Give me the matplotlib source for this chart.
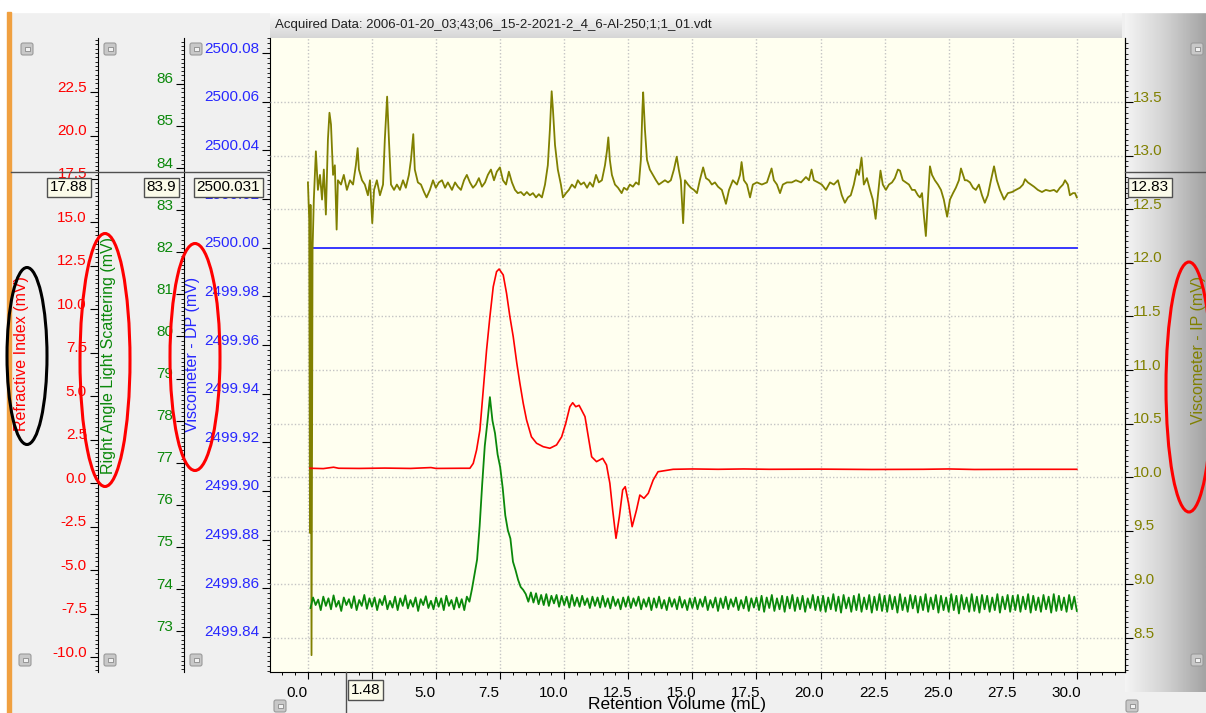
import numpy as np
import matplotlib.pyplot as plt
from matplotlib.colors import LinearSegmentedColormap
from matplotlib.patches import Ellipse, Rectangle, FancyBboxPatch
from matplotlib.ticker import MultipleLocator, FormatStrFormatter
from matplotlib.transforms import ScaledTranslation

plt.rcParams['font.family'] = ['Liberation Sans', 'DejaVu Sans']

# ----------------------------------------------------------------------
# Data
# ----------------------------------------------------------------------
title = "Acquired Data: 2006-01-20_03;43;06_15-2-2021-2_4_6-Al-250;1;1_01.vdt"

x_ticks = [0.0, 2.5, 5.0, 7.5, 10.0, 12.5, 15.0, 17.5, 20.0, 22.5, 25.0, 27.5, 30.0]
ri_ticks = [-10.0, -7.5, -5.0, -2.5, 0.0, 2.5, 5.0, 7.5, 10.0, 12.5, 15.0, 17.5, 20.0, 22.5]
ls_ticks = [73, 74, 75, 76, 77, 78, 79, 80, 81, 82, 83, 84, 85, 86]
dp_ticks = [2499.84, 2499.86, 2499.88, 2499.90, 2499.92, 2499.94, 2499.96,
            2499.98, 2500.00, 2500.02, 2500.04, 2500.06, 2500.08]
ip_ticks = [8.5, 9.0, 9.5, 10.0, 10.5, 11.0, 11.5, 12.0, 12.5, 13.0, 13.5]

x_lim = (-1.48, 31.88)
ri_lim = (-10.86, 25.61)
ls_lim = (72.03, 87.09)
dp_lim = (2499.8256, 2500.0862)
ip_lim = (8.183, 14.097)

# cursor read-outs shown in the boxes
cursor_x = 1.48
cursor_ri = 17.88
cursor_ls = 83.9
cursor_dp = 2500.031
cursor_ip = 12.83

# Refractive index (mV)
ri_pts = [
    (0.08, 0.86), (0.60, 0.84), (1.00, 0.92), (1.20, 0.86), (2.00, 0.85), (3.00, 0.87),
    (4.00, 0.85), (4.80, 0.90), (5.00, 0.85), (6.00, 0.86), (6.32, 0.86), (6.45, 1.14),
    (6.58, 1.91), (6.71, 3.06), (6.84, 5.36), (6.97, 7.66), (7.10, 9.58), (7.23, 11.30),
    (7.36, 12.17), (7.46, 12.32), (7.62, 11.98), (7.75, 10.92), (7.88, 9.58), (8.01, 8.43),
    (8.15, 6.90), (8.27, 5.75), (8.40, 4.60), (8.53, 3.64), (8.72, 2.67), (8.92, 2.30),
    (9.18, 2.10), (9.44, 2.01), (9.70, 2.20), (9.90, 2.67), (10.06, 3.45), (10.22, 4.40),
    (10.33, 4.63), (10.45, 4.40), (10.58, 4.48), (10.68, 4.20), (10.81, 3.83), (10.94, 2.67),
    (11.07, 1.52), (11.26, 1.24), (11.50, 1.43), (11.65, 1.05), (11.78, 0.00), (11.89, -1.54),
    (12.02, -3.17), (12.15, -1.93), (12.28, -0.39), (12.38, -0.20), (12.51, -1.16), (12.65, -2.50),
    (12.82, -1.54), (12.95, -0.68), (13.11, -0.87), (13.28, -0.58), (13.47, 0.18), (13.66, 0.66),
    (14.25, 0.80), (15.00, 0.82), (16.00, 0.80), (17.00, 0.82), (18.00, 0.80), (20.00, 0.81),
    (22.00, 0.79), (24.00, 0.80), (25.00, 0.82), (26.00, 0.79), (28.00, 0.80), (30.00, 0.80),
]

# Right angle light scattering (mV), one reading every 0.1 mL from 0.1 to 30.0
ls_vals = [
    73.55, 73.80, 73.62, 73.75, 73.50, 73.82, 73.60, 73.78, 73.52, 73.85, 73.58, 73.72, 73.48,
    73.80, 73.62, 73.76, 73.55, 73.83, 73.50, 73.74, 73.60, 73.86, 73.53, 73.78, 73.58,
    73.80, 73.50, 73.76, 73.62, 73.84, 73.52, 73.72, 73.56, 73.82, 73.50, 73.78, 73.60, 73.85,
    73.54, 73.74, 73.58, 73.80, 73.48, 73.76, 73.62, 73.83, 73.55, 73.72, 73.52, 73.80,
    73.58, 73.78, 73.50, 73.84, 73.60, 73.74, 73.52, 73.80, 73.56, 73.76, 73.50, 73.82, 73.70,
    74.00, 74.35, 74.70, 75.50, 76.50, 77.40, 77.95, 78.56, 78.00, 77.70, 77.20, 76.90,
    76.40, 75.75, 75.40, 75.20, 74.65, 74.45, 74.22, 74.05, 73.98, 73.88, 73.70, 73.92, 73.68,
    73.90, 73.64, 73.86, 73.62, 73.88, 73.60, 73.84, 73.66, 73.86, 73.58, 73.84, 73.62,
    73.82, 73.56, 73.86, 73.60, 73.80, 73.58, 73.84, 73.62, 73.78, 73.55, 73.82, 73.60, 73.80,
    73.56, 73.84, 73.58, 73.78, 73.54, 73.82, 73.60, 73.76, 73.52, 73.80, 73.58, 73.82,
    73.55, 73.78, 73.60, 73.82, 73.52, 73.76, 73.58, 73.80, 73.50, 73.78, 73.56, 73.82, 73.54,
    73.74, 73.50, 73.80, 73.58, 73.76, 73.52, 73.82, 73.56, 73.74, 73.50, 73.78, 73.55,
    73.80, 73.52, 73.76, 73.58, 73.82, 73.50, 73.74, 73.56, 73.80, 73.48, 73.78, 73.55, 73.82,
    73.52, 73.76, 73.58, 73.80, 73.50, 73.74, 73.54, 73.82, 73.48, 73.78, 73.56, 73.80,
    73.50, 73.84, 73.46, 73.80, 73.55, 73.86, 73.48, 73.78, 73.52, 73.84, 73.46, 73.82, 73.54,
    73.86, 73.48, 73.80, 73.52, 73.84, 73.46, 73.78, 73.55, 73.86, 73.50, 73.82, 73.48,
    73.84, 73.46, 73.80, 73.52, 73.88, 73.48, 73.82, 73.44, 73.86, 73.54, 73.80, 73.46, 73.84,
    73.50, 73.88, 73.46, 73.80, 73.52, 73.86, 73.44, 73.82, 73.50, 73.88, 73.48, 73.84,
    73.46, 73.86, 73.52, 73.82, 73.44, 73.88, 73.50, 73.80, 73.46, 73.86, 73.54, 73.84, 73.44,
    73.82, 73.50, 73.88, 73.46, 73.80, 73.52, 73.86, 73.44, 73.84, 73.50, 73.80, 73.46,
    73.88, 73.50, 73.84, 73.42, 73.86, 73.52, 73.80, 73.46, 73.88, 73.48, 73.82, 73.44, 73.86,
    73.52, 73.84, 73.46, 73.80, 73.50, 73.88, 73.44, 73.82, 73.52, 73.86, 73.46, 73.84,
    73.50, 73.86, 73.46, 73.82, 73.52, 73.88, 73.44, 73.84, 73.50, 73.80, 73.46, 73.86, 73.52,
    73.82, 73.44, 73.88, 73.48, 73.84, 73.50, 73.80, 73.46, 73.86, 73.52, 73.82, 73.48,
]
ls_x = np.round(0.1 * np.arange(1, len(ls_vals) + 1), 1)

# Viscometer DP (mV) - flat
dp_x = [0.08, 30.0]
dp_vals = [2500.0, 2500.0]

# Viscometer IP (mV)
ip_pts = [
    (0.00, 12.75), (0.05, 12.40), (0.08, 9.48), (0.10, 12.54), (0.14, 8.34), (0.18, 12.12),
    (0.23, 12.59), (0.31, 13.04), (0.39, 12.68), (0.47, 12.82), (0.55, 12.59), (0.62, 12.87),
    (0.70, 12.45), (0.78, 13.15), (0.84, 13.40), (0.90, 13.29), (0.98, 12.82), (1.05, 12.91),
    (1.12, 12.31), (1.17, 12.77), (1.29, 12.73), (1.40, 12.82), (1.52, 12.68), (1.64, 12.77),
    (1.76, 12.73), (1.87, 12.91), (1.94, 13.07), (1.99, 12.87), (2.11, 12.77), (2.22, 12.73),
    (2.34, 12.63), (2.42, 12.77), (2.51, 12.37), (2.58, 12.68), (2.69, 12.77), (2.81, 12.63),
    (2.93, 12.73), (3.00, 13.15), (3.09, 13.55), (3.16, 13.15), (3.24, 12.73), (3.36, 12.68),
    (3.47, 12.73), (3.59, 12.68), (3.71, 12.77), (3.82, 12.70), (3.94, 12.82), (4.02, 12.96),
    (4.11, 13.20), (4.17, 12.87), (4.29, 12.75), (4.41, 12.73), (4.53, 12.66), (4.63, 12.61),
    (4.76, 12.68), (4.88, 12.77), (4.99, 12.70), (5.11, 12.75), (5.23, 12.77), (5.35, 12.70),
    (5.46, 12.75), (5.62, 12.68), (5.74, 12.75), (5.85, 12.71), (5.97, 12.68), (6.09, 12.77),
    (6.20, 12.82), (6.32, 12.75), (6.44, 12.70), (6.55, 12.73), (6.67, 12.79), (6.79, 12.71),
    (6.91, 12.75), (7.02, 12.82), (7.14, 12.87), (7.26, 12.77), (7.37, 12.85), (7.49, 12.89),
    (7.61, 12.77), (7.73, 12.73), (7.84, 12.85), (7.96, 12.75), (8.08, 12.68), (8.19, 12.65),
    (8.31, 12.66), (8.43, 12.63), (8.54, 12.66), (8.66, 12.63), (8.78, 12.65), (8.90, 12.61),
    (9.01, 12.64), (9.13, 12.61), (9.25, 12.73), (9.36, 12.91), (9.44, 13.24), (9.51, 13.60),
    (9.56, 13.43), (9.64, 13.10), (9.75, 12.87), (9.87, 12.73), (9.95, 12.61), (10.07, 12.65),
    (10.18, 12.68), (10.30, 12.73), (10.42, 12.70), (10.53, 12.77), (10.65, 12.73), (10.77, 12.75),
    (10.89, 12.70), (11.00, 12.75), (11.12, 12.71), (11.24, 12.82), (11.35, 12.75), (11.47, 12.77),
    (11.59, 12.91), (11.67, 13.05), (11.72, 13.17), (11.78, 12.96), (11.86, 12.82), (11.98, 12.73),
    (12.10, 12.70), (12.24, 12.65), (12.33, 12.70), (12.45, 12.68), (12.56, 12.73), (12.68, 12.71),
    (12.80, 12.75), (12.91, 12.73), (12.99, 12.96), (13.05, 13.43), (13.08, 13.59), (13.15, 13.24),
    (13.23, 12.96), (13.34, 12.87), (13.46, 12.82), (13.58, 12.77), (13.69, 12.73), (13.81, 12.75),
    (13.93, 12.77), (14.05, 12.75), (14.16, 12.77), (14.28, 12.87), (14.39, 12.99), (14.47, 12.87),
    (14.55, 12.77), (14.64, 12.37), (14.71, 12.77), (14.83, 12.73), (14.94, 12.70), (15.06, 12.68),
    (15.18, 12.65), (15.29, 12.77), (15.42, 12.89), (15.53, 12.79), (15.65, 12.77), (15.76, 12.73),
    (15.88, 12.75), (16.00, 12.71), (16.15, 12.68), (16.31, 12.55), (16.43, 12.68), (16.58, 12.77),
    (16.74, 12.73), (16.86, 12.82), (16.92, 12.94), (17.01, 12.77), (17.13, 12.73), (17.25, 12.61),
    (17.36, 12.73), (17.52, 12.75), (17.71, 12.73), (17.91, 12.75), (18.09, 12.88), (18.18, 12.77),
    (18.30, 12.73), (18.42, 12.65), (18.53, 12.73), (18.69, 12.75), (18.88, 12.75), (19.04, 12.77),
    (19.24, 12.75), (19.43, 12.80), (19.55, 12.77), (19.65, 12.87), (19.74, 12.77), (19.90, 12.75),
    (20.05, 12.73), (20.21, 12.68), (20.37, 12.75), (20.52, 12.73), (20.68, 12.77), (20.83, 12.63),
    (20.95, 12.56), (21.07, 12.61), (21.18, 12.63), (21.30, 12.73), (21.42, 12.87), (21.50, 12.82),
    (21.60, 12.98), (21.69, 12.73), (21.81, 12.79), (21.93, 12.68), (22.04, 12.59), (22.15, 12.41),
    (22.24, 12.63), (22.34, 12.86), (22.43, 12.73), (22.55, 12.68), (22.67, 12.73), (22.79, 12.75),
    (22.90, 12.79), (23.02, 12.87), (23.10, 12.86), (23.21, 12.77), (23.33, 12.75), (23.45, 12.73),
    (23.57, 12.68), (23.68, 12.68), (23.80, 12.63), (23.88, 12.61), (23.96, 12.65), (24.03, 12.45),
    (24.11, 12.25), (24.19, 12.59), (24.27, 12.90), (24.35, 12.82), (24.46, 12.77), (24.58, 12.73),
    (24.70, 12.68), (24.81, 12.59), (24.94, 12.43), (25.05, 12.59), (25.17, 12.65), (25.28, 12.70),
    (25.40, 12.77), (25.48, 12.88), (25.56, 12.82), (25.63, 12.77), (25.71, 12.77), (25.83, 12.75),
    (25.95, 12.70), (26.06, 12.68), (26.18, 12.73), (26.30, 12.63), (26.41, 12.56), (26.53, 12.63),
    (26.65, 12.77), (26.77, 12.90), (26.88, 12.77), (27.00, 12.68), (27.16, 12.59), (27.31, 12.65),
    (27.47, 12.66), (27.62, 12.68), (27.78, 12.70), (27.90, 12.73), (27.98, 12.78), (28.09, 12.75),
    (28.21, 12.73), (28.33, 12.71), (28.48, 12.68), (28.64, 12.66), (28.79, 12.68), (28.95, 12.67),
    (29.11, 12.68), (29.22, 12.66), (29.34, 12.70), (29.46, 12.73), (29.54, 12.77), (29.65, 12.73),
    (29.73, 12.63), (29.85, 12.65), (29.93, 12.65), (30.00, 12.61),
]

RED = '#ff0000'
GREEN = '#0a880a'
BLUE = '#2828ff'
OLIVE = '#808000'
TICK_FS = 11
LABEL_FS = 11.5

# ----------------------------------------------------------------------
# Figure / panels
# ----------------------------------------------------------------------
W, H = 1206, 713
fig = plt.figure(figsize=(W / 100, H / 100), dpi=100, facecolor='#f0f0f0')


def px_rect(x0, y0, x1, y1):
    return [x0 / W, 1 - y1 / H, (x1 - x0) / W, (y1 - y0) / H]


bg = fig.add_axes([0, 0, 1, 1], zorder=-10)
bg.axis('off')
bg.add_patch(Rectangle((0, 0), W, 12, color='white'))
bg.add_patch(Rectangle((0, 0), 7, H, color='white'))
bg.add_patch(Rectangle((7, 12), 4, H - 12, color='#f0a040'))
title_cmap = LinearSegmentedColormap.from_list('tb', ['#fbfbfb', '#d6d6d6'])
bg.imshow(np.linspace(0, 1, 40).reshape(-1, 1), extent=(270, 1122, 38, 12),
          cmap=title_cmap, aspect='auto')
side_cmap = LinearSegmentedColormap.from_list('sd', ['#f4f4f4', '#d2d2d2', '#a4a4a4'])
bg.imshow(np.linspace(0, 1, 60).reshape(1, -1), extent=(1125, W, 692, 12),
          cmap=side_cmap, aspect='auto')
bg.set_xlim(0, W)
bg.set_ylim(H, 0)

# host axes: x axis + viscometer DP on the left spine
ax = fig.add_axes(px_rect(270, 38, 1125, 672))
ax.set_facecolor('#fffff0')
ax_ip = ax.twinx()
ax_ls = ax.twinx()
ax_ri = ax.twinx()

for a in (ax, ax_ip, ax_ls, ax_ri):
    a.spines['top'].set_visible(False)
for a in (ax_ls, ax_ri):
    a.spines['right'].set_visible(False)
    a.spines['bottom'].set_visible(False)
    a.spines['left'].set_visible(True)
    a.yaxis.tick_left()
    a.yaxis.set_label_position('left')
ax_ls.spines['left'].set_position(('axes', -86 / 855))
ax_ri.spines['left'].set_position(('axes', -172 / 855))
ax_ip.spines['left'].set_visible(False)
ax_ip.spines['bottom'].set_visible(False)

# series
ax.plot(dp_x, dp_vals, color=BLUE, lw=1.3)
ip_x, ip_v = zip(*ip_pts)
ax_ip.plot(ip_x, ip_v, color=OLIVE, lw=1.3)
ax_ls.plot(ls_x, ls_vals, color=GREEN, lw=1.3)
ri_x, ri_v = zip(*ri_pts)
ax_ri.plot(ri_x, ri_v, color=RED, lw=1.2)

# limits, ticks
ax.set_xlim(*x_lim)
ax.set_ylim(*dp_lim)
ax_ip.set_ylim(*ip_lim)
ax_ls.set_ylim(*ls_lim)
ax_ri.set_ylim(*ri_lim)

ax.set_xticks(x_ticks)
ax.xaxis.set_minor_locator(MultipleLocator(0.5))
ax.xaxis.set_major_formatter(FormatStrFormatter('%.1f'))
ax.tick_params(axis='x', which='major', length=5, width=0.8, pad=5, labelsize=TICK_FS)
ax.tick_params(axis='x', which='minor', length=2.5, width=0.7)

for a, ticks, minor, fmt, color in (
        (ax, dp_ticks, 0.002, '%.2f', BLUE),
        (ax_ls, ls_ticks, 0.1, '%d', GREEN),
        (ax_ri, ri_ticks, 0.25, '%.1f', RED),
        (ax_ip, ip_ticks, 0.05, '%.1f', OLIVE)):
    a.set_yticks(ticks)
    a.yaxis.set_minor_locator(MultipleLocator(minor))
    a.yaxis.set_major_formatter(FormatStrFormatter(fmt))
    a.tick_params(axis='y', which='major', length=5.5, width=0.8,
                  labelsize=TICK_FS, labelcolor=color, pad=2.5)
    a.tick_params(axis='y', which='minor', length=2.5, width=0.6)
ax_ip.tick_params(axis='y', which='major', pad=0.5)

# grid: vertical on x majors, horizontal on IP majors
grid_kw = dict(color='#c4c4c4', linestyle=(0, (1, 1.5)), linewidth=1.0)
ax.grid(axis='x', which='major', **grid_kw)
ax_ip.grid(axis='y', which='major', **grid_kw)

# axis titles
ax_ri.set_ylabel('Refractive Index (mV)', color=RED, fontsize=LABEL_FS, va='center')
ax_ri.yaxis.set_label_coords((22 - 270) / 855, (672 - 354) / 634)
ax_ls.set_ylabel('Right Angle Light Scattering (mV)', color=GREEN, fontsize=LABEL_FS, va='center')
ax_ls.yaxis.set_label_coords((108 - 270) / 855, (672 - 355) / 634)
ax.set_ylabel('Viscometer - DP (mV)', color=BLUE, fontsize=LABEL_FS, va='center')
ax.yaxis.set_label_coords((193 - 270) / 855, (672 - 354) / 634)
ax_ip.set_ylabel('Viscometer - IP (mV)', color=OLIVE, fontsize=LABEL_FS, va='center')
ax_ip.yaxis.set_label_coords((1198 - 270) / 855, (672 - 350) / 634)
ax.set_xlabel('Retention Volume (mL)', fontsize=12.5, va='center')
ax.xaxis.set_label_coords((677 - 270) / 855, (672 - 705) / 634)

# ----------------------------------------------------------------------
# Overlay: title, cursors, read-out boxes, buttons, hand-drawn ellipses
# ----------------------------------------------------------------------
ov = fig.add_axes([0, 0, 1, 1], zorder=10)
ov.patch.set_visible(False)
ov.axis('off')
ov.set_xlim(0, W)
ov.set_ylim(H, 0)

ov.text(275, 25, title, fontsize=9.5, va='center', ha='left', color='#202020')

cur_y = H - ax_ri.transData.transform((0, cursor_ri))[1]
cur_x = ax.transData.transform((cursor_x, 0))[0]
ov.plot([11, 270], [cur_y, cur_y], color='#505050', lw=1.0)
ov.plot([1125, W], [cur_y, cur_y], color='#505050', lw=1.0)
ov.plot([cur_x, cur_x], [672, H], color='#505050', lw=1.0)

box = dict(boxstyle='square,pad=0.18', fc='#fbfbea', ec='#505050', lw=1.0)
ov.text(88, cur_y + 15, f'{cursor_ri:.2f}', ha='right', va='center', fontsize=TICK_FS, bbox=box)
ov.text(176, cur_y + 15, f'{cursor_ls:.1f}', ha='right', va='center', fontsize=TICK_FS, bbox=box)
ov.text(260, cur_y + 15, f'{cursor_dp:.3f}', ha='right', va='center', fontsize=TICK_FS, bbox=box)
ov.text(1131, cur_y + 15, f'{cursor_ip:.2f}', ha='left', va='center', fontsize=TICK_FS, bbox=box)
ov.text(cur_x + 5, 690, f'{cursor_x:.2f}', ha='left', va='center', fontsize=TICK_FS, bbox=box)


def button(cx, cy):
    ov.add_patch(FancyBboxPatch((cx - 6, cy - 6), 12, 12,
                                boxstyle='round,pad=0,rounding_size=2',
                                fc='#c8c8c8', ec='#9a9a9a', lw=0.8))
    ov.add_patch(Rectangle((cx - 2.5, cy - 2), 5, 4, fc='#f2f2f2', ec='#8a8a8a', lw=0.6))


for bx, by in ((27, 49), (110, 49), (196, 49), (25, 660), (110, 660), (196, 660),
               (1197, 49), (1197, 660), (280, 706), (1132, 706)):
    button(bx, by)

ov.add_patch(Ellipse((27, 356), 40, 177, fill=False, ec='black', lw=2.2))
ov.add_patch(Ellipse((105, 360), 50, 253, fill=False, ec='red', lw=2.2))
ov.add_patch(Ellipse((195, 357), 50, 227, fill=False, ec='red', lw=2.2))
ov.add_patch(Ellipse((1189, 387), 46, 250, fill=False, ec='red', lw=2.2))

# tick labels sit above their tick marks; x labels sit left of the tick
up = ScaledTranslation(0, 6 / 100, fig.dpi_scale_trans)
left = ScaledTranslation(-11 / 100, 0, fig.dpi_scale_trans)
for a in (ax, ax_ip, ax_ls, ax_ri):
    for t in a.yaxis.get_major_ticks():
        t.label1.set_transform(t.label1.get_transform() + up)
        t.label2.set_transform(t.label2.get_transform() + up)
for t in ax.xaxis.get_major_ticks():
    t.label1.set_transform(t.label1.get_transform() + left)

fig.savefig('out.png', dpi=100, facecolor=fig.get_facecolor())
